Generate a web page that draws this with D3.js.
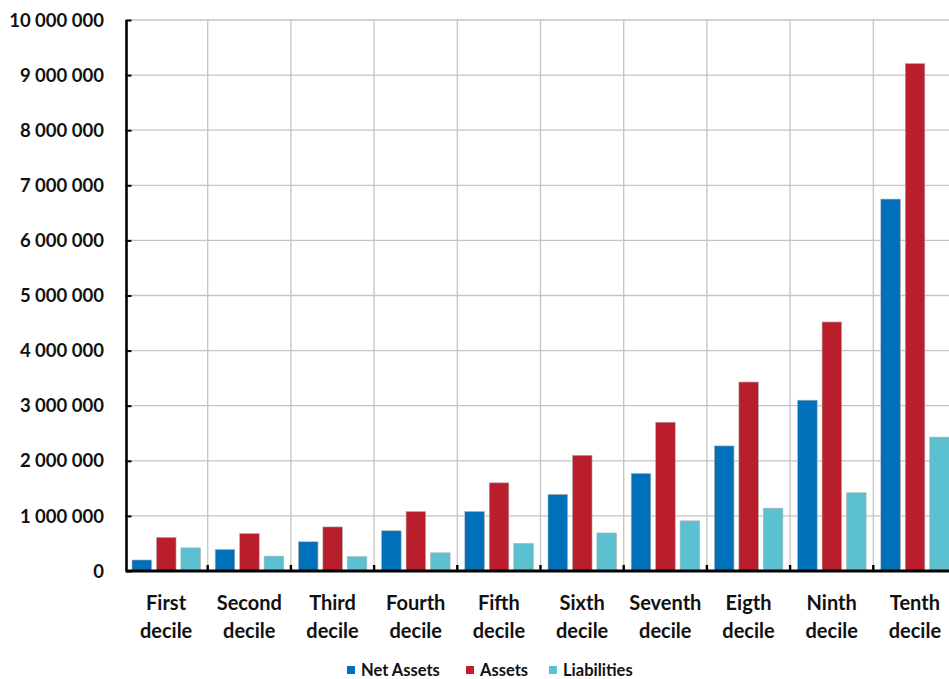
<!DOCTYPE html>
<html>
<head>
<meta charset="utf-8">
<script src="https://cdn.jsdelivr.net/npm/d3@7"></script>
<style>
  body { margin: 0; background: #fff; }
  text { font-family: Lato, "Open Sans", sans-serif; font-weight: bold; fill: #111; }
</style>
</head>
<body>
<div id="chart"></div>
<script>
// deciles and values
const categories = ['First decile', 'Second decile', 'Third decile', 'Fourth decile', 'Fifth decile',
    'Sixth decile', 'Seventh decile', 'Eigth decile', 'Ninth decile', 'Tenth decile'];
const seriesNames = ['Net Assets', 'Assets', 'Liabilities'];
const netAssets = [200000, 390000, 530000, 730000, 1080000, 1390000, 1770000, 2270000, 3100000, 6750000];
const assets = [610000, 680000, 800000, 1080000, 1600000, 2100000, 2700000, 3430000, 4520000, 9210000];
const liabilities = [420000, 270000, 260000, 330000, 500000, 690000, 910000, 1140000, 1420000, 2430000];
const yTicks = [0, 1000000, 2000000, 3000000, 4000000, 5000000, 6000000, 7000000, 8000000, 9000000, 10000000];

const COLORS = {
    'Net Assets': '#0070BA',
    'Assets': '#BA1E2C',
    'Liabilities': '#5BC0CF'
};

const width = 949;
const height = 679;
const plotLeft = 124.5, plotTop = 20, plotBottom = 571;

const svg = d3.select('#chart')
    .append('svg')
    .attr('width', width)
    .attr('height', height);

const x0 = d3.scaleBand()
    .domain(categories)
    .range([plotLeft, plotLeft + 10 * 83.2])
    .padding(0);

const x1 = d3.scaleBand()
    .domain(seriesNames)
    .range([7.5, 76])
    .paddingInner(0.2);

const y = d3.scaleLinear()
    .domain([0, 10000000])
    .range([plotBottom, plotTop]);

const fmt = v => d3.format(',')(v).replace(/,/g, ' ');

// gridlines
svg.append('g')
    .selectAll('line')
    .data(yTicks.slice(1))
    .enter()
    .append('line')
    .attr('x1', plotLeft)
    .attr('x2', width)
    .attr('y1', d => y(d))
    .attr('y2', d => y(d))
    .attr('stroke', '#c4c4c4')
    .attr('stroke-width', 1.3);

svg.append('g')
    .selectAll('line')
    .data(categories.slice(1))
    .enter()
    .append('line')
    .attr('x1', d => x0(d))
    .attr('x2', d => x0(d))
    .attr('y1', plotTop)
    .attr('y2', plotBottom)
    .attr('stroke', '#c4c4c4')
    .attr('stroke-width', 1.3);

// bars
const rows = categories.map((c, i) => ({
    cat: c,
    values: [
        { key: 'Net Assets', value: netAssets[i] },
        { key: 'Assets', value: assets[i] },
        { key: 'Liabilities', value: liabilities[i] }
    ]
}));

const groups = svg.append('g')
    .selectAll('g')
    .data(rows)
    .enter()
    .append('g')
    .attr('transform', d => `translate(${x0(d.cat)},0)`);

groups.selectAll('rect')
    .data(d => d.values)
    .enter()
    .append('rect')
    .attr('x', d => x1(d.key))
    .attr('width', x1.bandwidth())
    .attr('y', d => y(d.value))
    .attr('height', d => plotBottom - y(d.value))
    .attr('fill', d => COLORS[d.key])
    .attr('stroke', '#b0b0b0')
    .attr('stroke-width', 0.6);

// y axis
const yAxis = svg.append('g')
    .attr('transform', `translate(${plotLeft + 2},0)`)
    .call(d3.axisRight(y).tickValues(yTicks).tickSize(5).tickFormat(''));
yAxis.select('.domain').attr('stroke', '#000').attr('stroke-width', 2.6).attr('d', `M0,${plotTop}V${plotBottom}`);
yAxis.selectAll('.tick line').attr('stroke', '#000').attr('stroke-width', 2);

svg.append('g')
    .selectAll('text')
    .data(yTicks)
    .enter()
    .append('text')
    .attr('x', 104)
    .attr('y', d => y(d))
    .attr('dy', '0.36em')
    .attr('text-anchor', 'end')
    .style('font-size', '18.5px')
    .text(d => fmt(d));

// x axis
const xAxis = svg.append('g')
    .attr('transform', `translate(0,${plotBottom})`)
    .call(d3.axisTop(x0).tickValues(categories.slice(1)).tickSize(0).tickFormat(''));
xAxis.select('.domain').remove();
xAxis.append('line')
    .attr('x1', plotLeft + 1)
    .attr('x2', width)
    .attr('stroke', '#000')
    .attr('stroke-width', 3);
xAxis.selectAll('.tick')
    .attr('transform', d => `translate(${x0(d)},0)`)
    .append('line')
    .attr('y1', 0)
    .attr('y2', -6)
    .attr('stroke', '#000')
    .attr('stroke-width', 2.4);

const labels = svg.append('g')
    .selectAll('text')
    .data(categories)
    .enter()
    .append('text')
    .attr('text-anchor', 'middle')
    .attr('x', d => x0(d) + x0.bandwidth() / 2)
    .attr('y', 610)
    .style('font-size', '20px');

labels.append('tspan')
    .attr('x', d => x0(d) + x0.bandwidth() / 2)
    .text(d => d.split(' ')[0]);
labels.append('tspan')
    .attr('x', d => x0(d) + x0.bandwidth() / 2)
    .attr('dy', 28)
    .text(d => d.split(' ')[1]);

// legend
const legendX = [347, 466, 549];
const legend = svg.append('g');
seriesNames.forEach((name, i) => {
    const item = legend.append('g')
        .attr('transform', `translate(${legendX[i]}, 670)`);
    item.append('rect')
        .attr('x', 0)
        .attr('y', -4)
        .attr('width', 8)
        .attr('height', 8)
        .attr('fill', COLORS[name]);
    item.append('text')
        .attr('x', 14)
        .attr('y', 0)
        .attr('dy', '0.36em')
        .style('font-size', '16.5px')
        .text(name);
});
</script>
</body>
</html>
